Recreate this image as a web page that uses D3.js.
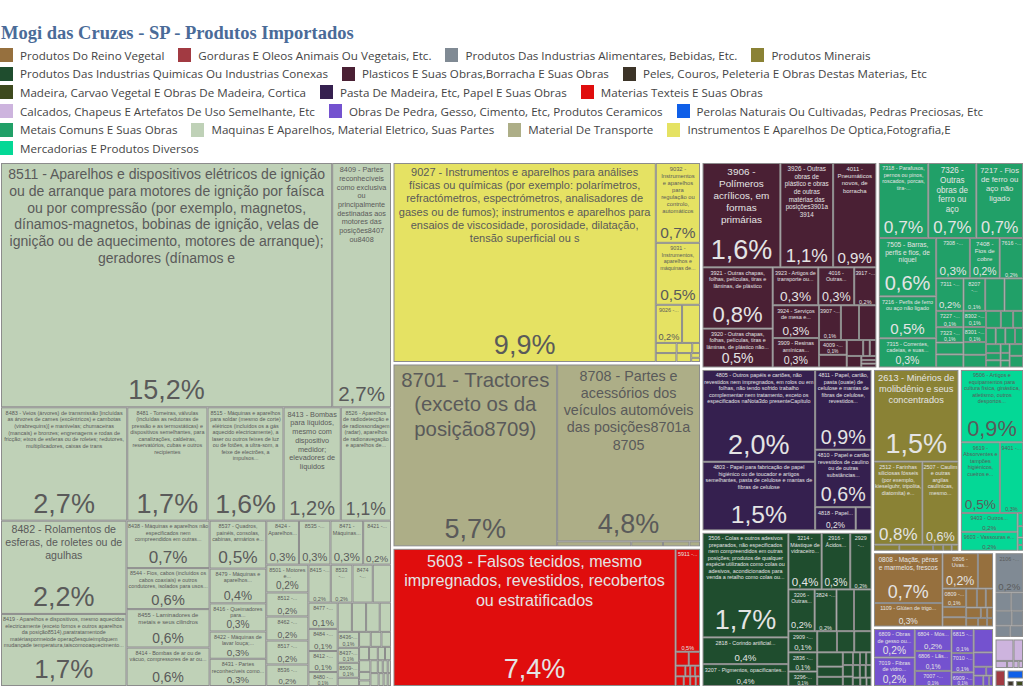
<!DOCTYPE html>
<html>
<head>
<meta charset="utf-8">
<script src="https://cdnjs.cloudflare.com/ajax/libs/d3/7.8.5/d3.min.js"></script>
<style>
body { margin: 0; background: #fff; width: 1024px; height: 691px; overflow: hidden; position: relative; }
#title { position: absolute; left: 1px; top: 23px; font: bold 18.5px "Liberation Serif", serif; color: #4a6b98; white-space: nowrap; }
#legend { position: absolute; left: 0; top: 46px; width: 1024px; display: flex; flex-wrap: wrap; }
.item { display: flex; align-items: center; height: 18.6px; margin-right: 14px; font: 11.6px "Open Sans", sans-serif; color: #444; white-space: nowrap; }
.item i { display: block; width: 13px; height: 14px; margin-right: 7px; }
svg { position: absolute; left: 0; top: 0; }
</style>
</head>
<body>
<div id="title">Mogi das Cruzes - SP - Produtos Importados</div>
<div id="legend"></div>
<svg id="chart" width="1024" height="691"></svg>
<script>
let groupNames = ["Produtos Do Reino Vegetal", "Gorduras E Oleos Animais Ou Vegetais, Etc.", "Produtos Das Industrias Alimentares, Bebidas, Etc.", "Produtos Minerais",
    "Produtos Das Industrias Quimicas Ou Industrias Conexas", "Plasticos E Suas Obras,Borracha E Suas Obras", "Peles, Couros, Peleteria E Obras Destas Materias, Etc",
    "Madeira, Carvao Vegetal E Obras De Madeira, Cortica", "Pasta De Madeira, Etc, Papel E Suas Obras", "Materias Texteis E Suas Obras",
    "Calcados, Chapeus E Artefatos De Uso Semelhante, Etc", "Obras De Pedra, Gesso, Cimento, Etc, Produtos Ceramicos", "Perolas Naturais Ou Cultivadas, Pedras Preciosas, Etc",
    "Metais Comuns E Suas Obras", "Maquinas E Aparelhos, Material Eletrico, Suas Partes", "Material De Transporte", "Instrumentos E Aparelhos De Optica,Fotografia,E",
    "Mercadorias E Produtos Diversos"];
let groupColors = ["#96703e", "#a23a42", "#808a94", "#8a8235", "#1f4d2e", "#4a2034", "#3c3428", "#3e4a1e", "#35204f", "#e00d0d",
    "#cdb4de", "#7452cf", "#0f5fe8", "#21a068", "#bfd1b7", "#adae87", "#e5e263", "#04d896"];
// grupos com texto escuro
let darkGroups = [groupNames[2], groupNames[10], groupNames[14], groupNames[15], groupNames[16], groupNames[17]];

function row(...kids) { return { dir: "row", children: kids } }
function col(...kids) { return { dir: "col", children: kids } }

// maquinas, de dentro para fora
let maqTiny = col(row(0.033, 0.03, 0.027),
    row(0.025, 0.022, 0.018, 0.015),
    row(col(0.025, 0.018, 0.012),
        col(row(0.018, 0.012, 0.012, 0.008), row(0.02, 0.012, 0.01, 0.008))));
let maqSmall = col(row(0.078, 0.078, 0.075, 0.062),
    row(col(["8436-...", 0.064], ["8437-...", 0.06], ["8509-...", 0.06], 0.033), maqTiny));
let maqMid = row(col(["8501 - Motores e...", 0.22], ["8512 -...", 0.19], ["8462 -...", 0.19], ["8517 -...", 0.19], ["8536 -...", 0.17]),
    col(row(["8415 -...", 0.16], ["8533 -...", 0.155], ["8474 -...", 0.145], 0.13),
        row(col(["8477 -...", 0.145], ["8484 -...", 0.122], ["8412 -...", 0.116], ["8480 -...", 0.077]), maqSmall)));
let maquinas = col(
    row(["8511 - Aparelhos e dispositivos elétricos de ignição ou de arranque para motores de ignição por faísca ou por compressão (por exemplo, magnetos, dínamos-magnetos, bobinas de ignição, velas de ignição ou de aquecimento, motores de arranque); geradores (dínamos e", 15.2],
        ["8409 - Partes reconhecíveis como exclusiva ou principalmente destinadas aos motores das posições8407 ou8408", 2.7]),
    row(["8483 - Veios (árvores) de transmissão [incluídas as árvores de cames (excêntricos) e cambotas (virabrequins)] e manivelas; chumaceiras (mancais) e bronzes; engrenagens e rodas de fricção; eixos de esferas ou de roletes; redutores, multiplicadores, caixas de trans", 2.69],
        ["8481 - Torneiras, válvulas (incluídas as redutoras de pressão e as termostáticas) e dispositivos semelhantes, para canalizações, caldeiras, reservatórios, cubas e outros recipientes", 1.71],
        ["8515 - Máquinas e aparelhos para soldar (mesmo de corte) elétricos (incluídos os a gás aquecido electricamente), a laser ou outros feixes de luz ou de fotões, a ultra-som, a feixe de electrões, a impulsos...", 1.62],
        ["8413 - Bombas para líquidos, mesmo com dispositivo medidor; elevadores de líquidos", 1.22],
        ["8526 - Aparelhos de radiodetecção e de radiossondagem (radar), aparelhos de radionavegação e aparelhos de...", 1.07]),
    row(col(["8482 - Rolamentos de esferas, de roletes ou de agulhas", 2.2],
            ["8419 - Aparelhos e dispositivos, mesmo aquecidos electricamente (exceto fornos e outros aparelhos da posição8514),paratratamentode matériaspormeiode operaçõesquieimpliquem mudançade temperatura,taiscomooaquecimento...", 1.7]),
        col(["8438 - Máquinas e aparelhos não especificados nem compreendidos em outras...", 0.74],
            ["8544 - Fios, cabos (incluídos os cabos coaxiais) e outros condutores, isolados para usos...", 0.64],
            ["8455 - Laminadores de metais e seus cilindros", 0.6],
            ["8414 - Bombas de ar ou de vácuo, compressores de ar ou...", 0.6]),
        col(["8537 - Quadros, painéis, consolas, cabinas, armários e...", 0.51],
            ["8479 - Máquinas e aparelhos...", 0.37],
            ["8416 - Queimadores para...", 0.3],
            ["8422 - Máquinas de lavar louça;...", 0.29],
            ["8431 - Partes reconhecíveis como...", 0.29]),
        col(row(["8424 - Aparelhos...", 0.27], ["8535 -...", 0.26], ["8471 - Máquinas...", 0.27], ["8421 -...", 0.23]), maqMid)));

let instrumentos = row(["9027 - Instrumentos e aparelhos para análises físicas ou químicas (por exemplo: polarímetros, refractómetros, espectrómetros, analisadores de gases ou de fumos); instrumentos e aparelhos para ensaios de viscosidade, porosidade, dilatação, tensão superficial ou s", 9.9],
    col(["9032 - Instrumentos e aparelhos para regulação ou controlo, automáticos", 0.67],
        ["9031 - Instrumentos, aparelhos e máquinas de...", 0.52],
        row(["9026 -...", 0.19], 0.13),
        row(0.04, 0.03, 0.015),
        row(0.035, 0.025, col(0.008, 0.007))));

let transporte = row(["8701 - Tractores (exceto os da posição8709)", 5.65],
    col(["8708 - Partes e acessórios dos veículos automóveis das posições8701a 8705", 4.8],
        row(0.07, 0.03, 0.025, 0.01)));

let texteis = row(["5603 - Falsos tecidos, mesmo impregnados, revestidos, recobertos ou estratificados", 7.38],
    col(["5911 -...", 0.48],
        row(0.035, 0.03),
        row(0.02, 0.01, 0.01, 0.01),
        row(0.015, 0.012, 0.01, 0.008)));

let plastTiny = row(col(["4009 -...", 0.078], 0.067),
    col(row(0.05, 0.02, 0.02), row(0.032, col(0.012, 0.01, 0.011))));
let plasticos = col(
    row(["3906 - Polímeros acrílicos, em formas primárias", 1.55],
        ["3926 - Outras obras de plástico e obras de outras matérias das posições3901a 3914", 1.05],
        ["4011 - Pneumáticos novos, de borracha", 0.86]),
    row(col(["3921 - Outras chapas, folhas, películas, tiras e lâminas, de plástico", 0.82],
            ["3920 - Outras chapas, folhas, películas, tiras e lâminas, de plástico não...", 0.52]),
        col(row(["3923 - Artigos de transporte ou...", 0.33], ["4016 - Outras...", 0.26], ["3917 -...", 0.16]),
            row(col(["3924 - Serviços de mesa e...", 0.29], ["3909 - Resinas amínicas...", 0.26]),
                col(row(["3907 -...", 0.145], 0.12, 0.115), plastTiny)))));

let papel = row(
    col(["4805 - Outros papéis e cartões, não revestidos nem impregnados, em rolos ou em folhas, não tendo sofrido trabalho complementar nem tratamento, exceto os especificados naNota3do presenteCapítulo", 1.98],
        ["4803 - Papel para fabricação de papel higiénico ou de toucador e artigos semelhantes, pasta de celulose e mantas de fibras de celulose", 1.48]),
    col(["4811 - Papel, cartão, pasta (ouate) de celulose e mantas de fibras de celulose, revestidos...", 0.86],
        ["4810 - Papel e cartão revestidos de caulino ou de outras substâncias...", 0.62],
        row(["4818 - Papel...", 0.18], 0.07)));

let quimTiny = col(row(0.025, 0.017, 0.015, 0.013),
    row(col(0.022, 0.018), col(row(0.017, 0.014, 0.014), row(0.012, 0.01, 0.008))));
let quimSmall = col(row(0.08, 0.07, 0.07),
    row(col(0.07, 0.05, 0.045), quimTiny));
let quimicos = row(
    col(["3506 - Colas e outros adesivos preparados, não especificados nem compreendidos em outras posições; produtos de qualquer espécie utilizados como colas ou adesivos, acondicionados para venda a retalho como colas ou...", 1.72],
        ["2818 - Corindo artificial...", 0.44],
        ["3207 - Pigmentos, opacificantes...", 0.36]),
    col(row(["3214 - Mástique de vidraceiro...", 0.36], ["2916 - Ácidos...", 0.31], ["2929 -...", 0.23]),
        row(["3206 - Outras...", 0.21], ["3824 -...", 0.175], 0.14, 0.14),
        row(col(["2909 -...", 0.117], ["2836 -...", 0.106], ["3296-...", 0.08]), quimSmall)));

let metTiny = col(row(0.048, 0.04, 0.032),
    row(0.03, 0.03, 0.03, 0.025),
    row(col(0.025, 0.02, 0.02), col(0.015, 0.013, 0.012), col(0.03, 0.03)));
let metais = col(
    row(["7318 - Parafusos, pernos ou pinos, roscados, porcas, tira-...", 0.71],
        ["7326 - Outras obras de ferro ou aço", 0.69],
        ["7217 - Fios de ferro ou aço não ligado", 0.67]),
    row(col(["7505 - Barras, perfis e fios, de níquel", 0.64],
            ["7216 - Perfis de ferro ou aço não ligado", 0.46],
            ["7315 - Correntes, cadeias, e suas...", 0.32]),
        col(row(["7308 -...", 0.26], ["7408 - Fios de cobre", 0.23], ["7616 -...", 0.18]),
            row(["7311 -...", 0.17], ["8207 -...", 0.135], 0.12, 0.115),
            row(col(["7227 -...", 0.085], ["7323 -...", 0.08], 0.062, 0.068),
                col(["8302 -...", 0.07], ["8301 -...", 0.065], 0.055, 0.055),
                metTiny))));

let minerais = col(["2613 - Minérios de molibdênio e seus concentrados", 1.5],
    row(["2512 - Farinhas siliciosas fósseis (por exemplo, kieselguhr, tripolita, diatomita) e...", 0.78],
        ["2507 - Caulim e outras argilas caulínicas, mesmo...", 0.58]),
    row(0.03, 0.04, 0.012, 0.01, 0.008));

let mercadorias = col(["9506 - Artigos e equipamentos para cultura física, ginástica, atletismo, outros desportos...", 0.88],
    row(["9619 - Absorventes e tampões higiénicos, cueiros e...", 0.54], ["9401 -...", 0.32]),
    row(col(["9403 - Outros...", 0.21], ["9603 - Vassouras e...", 0.21]),
        col(0.014, 0.012, 0.008, 0.006)));

let vegetal = row(
    col(["0808 - Maçãs, pêras e marmelos, frescos", 0.67],
        ["1109 - Glúten de trigo...", 0.315]),
    col(row(["0806 - Uvas...", 0.245], 0.105),
        row(col(["0809 -...", 0.085], 0.048, 0.043),
            col(row(0.04, 0.033, 0.027),
                row(0.03, 0.013, 0.012),
                row(0.02, 0.015, 0.01)))));

let pedra = row(
    col(["6809 - Obras de gesso ou...", 0.23], ["7019 - Fibras de vidro...", 0.23]),
    col(["6804 - Mós...", 0.16], ["6806 - Lãs...", 0.145], ["7007 -...", 0.11]),
    col(["6815 -...", 0.105], ["7010 -...", 0.085], ["6909 -...", 0.06]),
    col(0.09, 0.055, row(0.022, 0.012), row(0.02, 0.012, 0.008)));

let alimentares = col(["2106 -...", 0.225], row(0.06, 0.045), row(0.05, 0.035), row(0.035, 0.03));
let calcados = col(row(0.085, 0.045), row(0.018, 0.01, 0.008, 0.007));

function group(i, node) { node.group = groupNames[i]; return node }

let cornerGroups = row(group(1, row(0.04)),
    col(group(12, row(0.035)), row(group(6, row(0.012)), group(7, row(0.013)))));
let lowerRight = row(col(group(0, vegetal), group(11, pedra)),
    col(group(2, alimentares), group(10, calcados), cornerGroups));
let rightSide = col(row(group(3, minerais), group(17, mercadorias)), lowerRight);
let lowerMiddle = row(col(group(8, papel), group(4, quimicos)), rightSide);
let rootData = row(group(14, maquinas),
    col(group(16, instrumentos), group(15, transporte), group(9, texteis)),
    col(row(group(5, plasticos), group(13, metais)), lowerMiddle));

// legenda
let color = d3.scaleOrdinal(groupNames, groupColors);
let items = d3.select("#legend").selectAll("div").data(groupNames).enter()
    .append("div").attr("class", "item");
items.append("i").style("background", d => color(d));
items.append("span").text(d => d);

let root = d3.hierarchy(rootData, d => d.children)
    .sum(d => typeof d === "number" ? d : (Array.isArray(d) ? d[1] : 0));

function groupOf(node) {
    let a = node.ancestors().find(p => p.data.group);
    return a ? a.data.group : null;
}

d3.treemap()
    .tile((node, x0, y0, x1, y1) => (node.data.dir === "row" ? d3.treemapDice : d3.treemapSlice)(node, x0, y0, x1, y1))
    .paddingInner(node => groupOf(node) ? 0 : 2.5)
    .size([1022, 523])(root);

let svg = d3.select("#chart").append("g").attr("transform", "translate(1, 163)");
let canvasCtx = document.createElement("canvas").getContext("2d");
let fontFamily = '"Liberation Sans", Arial, sans-serif';
let formatPct = v => d3.format(".1f")(v).replace(".", ",") + "%";

function textWidth(str, size) {
    canvasCtx.font = size + "px " + fontFamily;
    return canvasCtx.measureText(str).width;
}

function wrapLines(str, size, maxW) {
    let lines = [], cur = "";
    for (let word of str.split(" ")) {
        let test = cur ? cur + " " + word : word;
        if (cur && textWidth(test, size) > maxW) { lines.push(cur); cur = word; }
        else cur = test;
    }
    if (cur) lines.push(cur);
    return lines;
}

function pctSize(w, h) {
    // celulas baixas: reduz para nao cobrir o rotulo
    if (h < 20) return Math.min(0.33 * h, w >= 26 ? 0.35 * w : 5.5);
    let s = w >= 26 ? Math.min(27, 0.35 * w, 0.36 * h) : 5.5;
    return Math.max(5.5, s);
}

function labelSize(str, w, h) {
    let s = 5.4;
    if (!str.endsWith("...")) {
        let area = w * (h - pctSize(w, h) * 1.3);
        let k = 1.05 + 0.3 * Math.min(1, area / 15000);
        s = Math.sqrt(area / (k * str.length));
        s = Math.max(5.4, Math.min(22, s));
    }
    let longest = d3.max(str.split(" "), word => textWidth(word, s));
    let limit = s > 5.4 ? 0.8 * w : w - 3;
    if (longest > limit) s = Math.max(4.6, s * limit / longest);
    return s;
}

let leaves = root.leaves();

svg.append("g").selectAll("rect").data(leaves).enter()
    .append("rect")
    .attr("x", d => d.x0 + 0.5)
    .attr("y", d => d.y0 + 0.5)
    .attr("width", d => Math.max(0, d.x1 - d.x0 - 1))
    .attr("height", d => Math.max(0, d.y1 - d.y0 - 1))
    .attr("fill", d => color(groupOf(d)))
    .attr("stroke", "#8c8c8c")
    .attr("stroke-width", 1);

let labeled = leaves.filter(d => Array.isArray(d.data));
let textColor = d => darkGroups.includes(groupOf(d)) ? "#5a5a5a" : "#e4e4e4";

let cells = svg.append("g").attr("font-family", fontFamily).selectAll("g").data(labeled).enter().append("g");

cells.each(function (d) {
    let w = d.x1 - d.x0, h = d.y1 - d.y0;
    let cx = (d.x0 + d.x1) / 2;
    let size = labelSize(d.data[0], w, h);
    let lines = wrapLines(d.data[0], size, size <= 5.4 ? w - 2 : w - 6);
    let g = d3.select(this);
    g.append("text")
        .attr("text-anchor", "middle")
        .attr("font-size", size)
        .attr("fill", textColor(d))
        .selectAll("tspan").data(lines).enter().append("tspan")
        .attr("x", cx)
        .attr("y", (l, i) => d.y0 + 2 + size + i * size * 1.2)
        .text(l => l);
    if (w >= 21) {
        // o que sobra abaixo do rotulo limita o tamanho do percentual
        let free = h - (2.5 + lines.length * size * 1.2);
        let ps = Math.min(pctSize(w, h), Math.max(4.6, free / 1.15));
        g.append("text")
            .attr("text-anchor", "middle")
            .attr("x", cx)
            .attr("y", d.y1 - Math.max(1.2, ps * 0.3))
            .attr("font-size", ps)
            .attr("fill", textColor(d))
            .text(formatPct(d.data[1]));
    }
});
</script>
</body>
</html>
